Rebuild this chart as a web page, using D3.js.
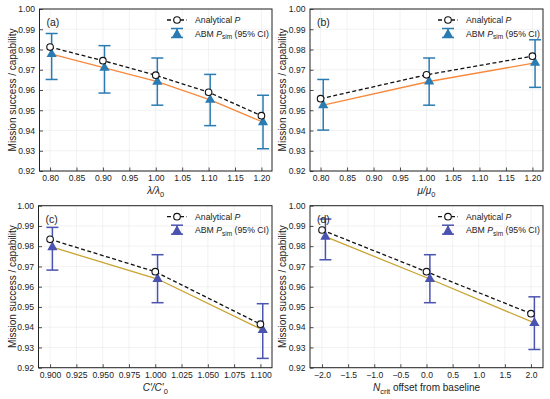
<!DOCTYPE html>
<html>
<head>
<meta charset="utf-8">
<script src="https://cdn.jsdelivr.net/npm/d3@7"></script>
<style>
  body { margin: 0; background: #fff; }
  svg text { font-family: "Liberation Sans", Arial, sans-serif; fill: #222; }
</style>
</head>
<body>
<svg id="chart" width="550" height="399"></svg>
<script>
// panel (a): lambda / lambda0
const lamX = [0.8, 0.9, 1.0, 1.1, 1.2];
const lamAnalytical = [0.9812, 0.9745, 0.9673, 0.9589, 0.9473];
const lamAbm = [0.9777, 0.9709, 0.9641, 0.9551, 0.9441];
const lamLo = [0.9652, 0.9585, 0.9525, 0.9424, 0.9310];
const lamHi = [0.9879, 0.9819, 0.9758, 0.9677, 0.9574];

// panel (b): mu / mu0
const muX = [0.8, 1.0, 1.2];
const muAnalytical = [0.9557, 0.9675, 0.9767];
const muAbm = [0.9525, 0.9642, 0.9734];
const muLo = [0.9402, 0.9525, 0.9613];
const muHi = [0.9652, 0.9758, 0.9848];

// panel (c): C'/C'0
const cX = [0.9, 1.0, 1.1];
const cAnalytical = [0.9834, 0.9674, 0.9415];
const cAbm = [0.9795, 0.9638, 0.9386];
const cLo = [0.9682, 0.9521, 0.9246];
const cHi = [0.9893, 0.9758, 0.9516];

// panel (d): N_crit offset
const nX = [-2, 0, 2];
const nAnalytical = [0.9880, 0.9674, 0.9467];
const nAbm = [0.9847, 0.9638, 0.9421];
const nLo = [0.9733, 0.9521, 0.9290];
const nHi = [0.9934, 0.9758, 0.9550];

const yTicks = [0.92, 0.93, 0.94, 0.95, 0.96, 0.97, 0.98, 0.99, 1.00];
const xTicksAB = [0.80, 0.85, 0.90, 0.95, 1.00, 1.05, 1.10, 1.15, 1.20];
const xTicksC = [0.900, 0.925, 0.950, 0.975, 1.000, 1.025, 1.050, 1.075, 1.100];
const xTicksD = [-2.0, -1.5, -1.0, -0.5, 0.0, 0.5, 1.0, 1.5, 2.0];

const svg = d3.select("#chart");

const panels = [
  { tag: "(a)", box: [39.5, 272, 9, 171], xd: [0.78, 1.22], ticks: xTicksAB, fmt: d3.format(".2f"),
    x: lamX, an: lamAnalytical, abm: lamAbm, lo: lamLo, hi: lamHi, shift: 0.003,
    col: "#2b7bb3", line: "#f8893c", xlab: "lambda", yl: 12, xlabY: 194 },
  { tag: "(b)", box: [310, 543, 9, 171], xd: [0.78, 1.22], ticks: xTicksAB, fmt: d3.format(".2f"),
    x: muX, an: muAnalytical, abm: muAbm, lo: muLo, hi: muHi, shift: 0.005,
    col: "#2b7bb3", line: "#f8893c", xlab: "mu", yl: 282, xlabY: 194 },
  { tag: "(c)", box: [38.5, 272, 205.7, 367.7], xd: [0.889, 1.111], ticks: xTicksC, fmt: d3.format(".3f"),
    x: cX, an: cAnalytical, abm: cAbm, lo: cLo, hi: cHi, shift: 0.0022,
    col: "#4a54b0", line: "#c9a431", xlab: "c", yl: 12, xlabY: 391 },
  { tag: "(d)", box: [310, 543, 205.7, 367.7], xd: [-2.23, 2.23], ticks: xTicksD, fmt: d3.format(".1f"),
    x: nX, an: nAnalytical, abm: nAbm, lo: nLo, hi: nHi, shift: 0.065,
    col: "#4a54b0", line: "#c9a431", xlab: "n", yl: 282, xlabY: 391 }
];

panels.forEach(drawPanel);

function drawPanel(p) {
  const [l, r, t, b] = p.box;
  const x = d3.scaleLinear().domain(p.xd).range([l, r]);
  const y = d3.scaleLinear().domain([0.92, 1.0]).range([b, t]);
  const g = svg.append("g");

  // grid
  g.selectAll(".gx").data(p.ticks).enter().append("line")
    .attr("x1", d => x(d)).attr("x2", d => x(d)).attr("y1", t).attr("y2", b)
    .attr("stroke", "#ececec").attr("stroke-width", 0.7);
  g.selectAll(".gy").data(yTicks).enter().append("line")
    .attr("x1", l).attr("x2", r).attr("y1", d => y(d)).attr("y2", d => y(d))
    .attr("stroke", "#ececec").attr("stroke-width", 0.7);

  // axes with inward ticks
  const xa = g.append("g").attr("transform", "translate(0," + b + ")")
    .call(d3.axisBottom(x).tickValues(p.ticks).tickFormat(d => p.fmt(d).replace("-", "\u2212"))
      .tickSizeInner(-3.5).tickSizeOuter(0).tickPadding(4));
  const ya = g.append("g").attr("transform", "translate(" + l + ",0)")
    .call(d3.axisLeft(y).tickValues(yTicks).tickFormat(d3.format(".2f"))
      .tickSizeInner(-3.5).tickSizeOuter(0).tickPadding(4.5));
  [xa, ya].forEach(a => {
    a.select(".domain").remove();
    a.selectAll("line").attr("stroke", "#222").attr("stroke-width", 0.8);
    a.selectAll("text").style("font-size", "8.6px").style("fill", "#222");
  });

  g.append("rect").attr("x", l).attr("y", t).attr("width", r - l).attr("height", b - t)
    .attr("fill", "none").attr("stroke", "#222").attr("stroke-width", 1);

  // ABM line
  const lineGen = d3.line().x(d => x(d[0])).y(d => y(d[1]));
  const abmPts = p.x.map((v, i) => [v + p.shift, p.abm[i]]);
  g.append("path").attr("d", lineGen(abmPts)).attr("fill", "none")
    .attr("stroke", p.line).attr("stroke-width", 1.3);

  // analytical dashed line
  const anPts = p.x.map((v, i) => [v, p.an[i]]);
  g.append("path").attr("d", lineGen(anPts)).attr("fill", "none")
    .attr("stroke", "#111").attr("stroke-width", 1.3).attr("stroke-dasharray", "4,2.5");

  // error bars
  const eb = g.selectAll(".eb").data(p.x).enter().append("g");
  eb.append("line")
    .attr("x1", d => x(d + p.shift)).attr("x2", d => x(d + p.shift))
    .attr("y1", (d, i) => y(p.lo[i])).attr("y2", (d, i) => y(p.hi[i]))
    .attr("stroke", p.col).attr("stroke-width", 1.5);
  ["lo", "hi"].forEach(k => {
    eb.append("line")
      .attr("x1", d => x(d + p.shift) - 6).attr("x2", d => x(d + p.shift) + 6)
      .attr("y1", (d, i) => y(p[k][i])).attr("y2", (d, i) => y(p[k][i]))
      .attr("stroke", p.col).attr("stroke-width", 1.5);
  });

  const tri = d3.symbol().type(d3.symbolTriangle).size(45);
  g.selectAll(".tri").data(abmPts).enter().append("path")
    .attr("d", tri)
    .attr("transform", d => "translate(" + x(d[0]) + "," + y(d[1]) + ")")
    .attr("fill", p.col);

  g.selectAll(".circ").data(anPts).enter().append("circle")
    .attr("cx", d => x(d[0])).attr("cy", d => y(d[1])).attr("r", 3.3)
    .attr("fill", "#fff").attr("stroke", "#111").attr("stroke-width", 1.1);

  // panel tag
  g.append("text").attr("x", l + 7).attr("y", t + 17).text(p.tag).style("font-size", "10.5px");

  // legend
  const lx = r - 105, ly = t + 11;
  g.append("line").attr("x1", lx).attr("x2", lx + 20).attr("y1", ly).attr("y2", ly)
    .attr("stroke", "#111").attr("stroke-width", 1.3).attr("stroke-dasharray", "4,2.5");
  g.append("circle").attr("cx", lx + 10).attr("cy", ly).attr("r", 3.3)
    .attr("fill", "#fff").attr("stroke", "#111").attr("stroke-width", 1.1);
  const t1 = g.append("text").attr("x", lx + 28).attr("y", ly + 3.2).style("font-size", "8.7px");
  t1.append("tspan").text("Analytical ");
  t1.append("tspan").text("P").style("font-style", "italic");

  const ly2 = ly + 13.5;
  g.append("line").attr("x1", lx + 10).attr("x2", lx + 10).attr("y1", ly2 - 5).attr("y2", ly2 + 4)
    .attr("stroke", p.col).attr("stroke-width", 1.5);
  g.append("line").attr("x1", lx + 4).attr("x2", lx + 16).attr("y1", ly2 - 5).attr("y2", ly2 - 5)
    .attr("stroke", p.col).attr("stroke-width", 1.5);
  g.append("line").attr("x1", lx + 4).attr("x2", lx + 16).attr("y1", ly2 + 4).attr("y2", ly2 + 4)
    .attr("stroke", p.col).attr("stroke-width", 1.5);
  g.append("path").attr("d", tri).attr("transform", "translate(" + (lx + 10) + "," + (ly2 + 1) + ")")
    .attr("fill", p.col);
  const t2 = g.append("text").attr("x", lx + 28).attr("y", ly2 + 3.2).style("font-size", "8.7px");
  t2.append("tspan").text("ABM ");
  t2.append("tspan").text("P").style("font-style", "italic");
  t2.append("tspan").text("sim").attr("dy", 2.3).style("font-size", "6.5px");
  t2.append("tspan").text(" (95% CI)").attr("dy", -2.3);

  // y label
  g.append("text").attr("transform", "translate(" + p.yl + "," + ((t + b) / 2) + ") rotate(-90)")
    .attr("text-anchor", "middle").style("font-size", "10px").attr("dy", "0.35em")
    .text("Mission success / capability");

  // x label
  const xl = g.append("text").attr("x", (l + r) / 2).attr("y", p.xlabY)
    .attr("text-anchor", "middle").style("font-size", "10px");
  if (p.xlab === "lambda" || p.xlab === "mu") {
    const s = p.xlab === "lambda" ? "\u03bb" : "\u03bc";
    xl.append("tspan").text(s + "/" + s).style("font-style", "italic");
    xl.append("tspan").text("0").attr("dy", 2.5).style("font-size", "7.5px");
  } else if (p.xlab === "c") {
    xl.append("tspan").text("C\u2032/C\u2032").style("font-style", "italic");
    xl.append("tspan").text("0").attr("dy", 2.5).style("font-size", "7.5px");
  } else {
    xl.append("tspan").text("N").style("font-style", "italic");
    xl.append("tspan").text("crit").attr("dy", 2.5).style("font-size", "7.5px");
    xl.append("tspan").text(" offset from baseline").attr("dy", -2.5);
  }
}
</script>
</body>
</html>
